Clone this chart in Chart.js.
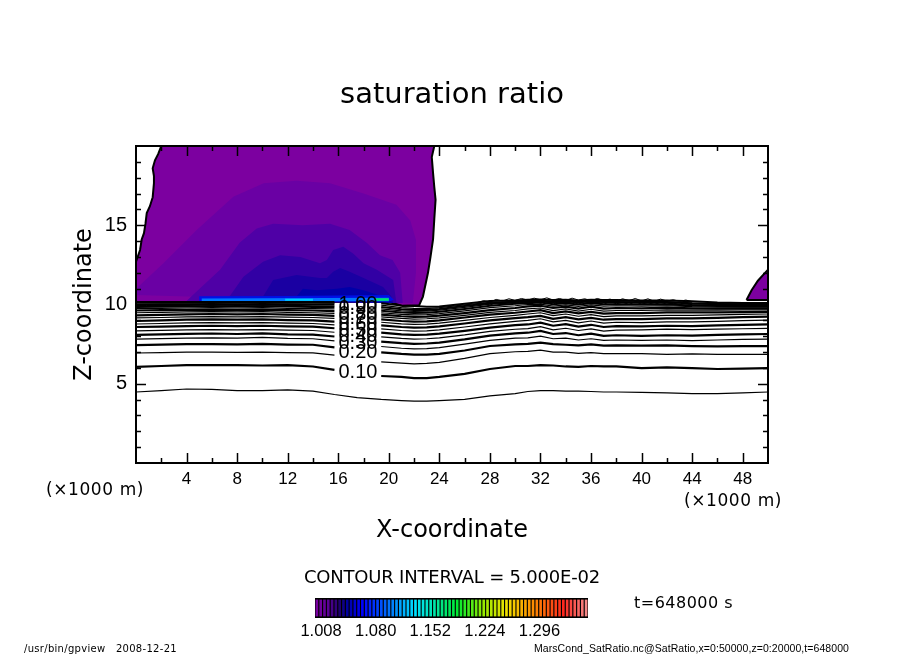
<!DOCTYPE html>
<html>
<head>
<meta charset="utf-8">
<title>saturation ratio</title>
<script src="https://cdn.jsdelivr.net/npm/chart.js@4"></script>
<style>
  html, body { margin: 0; padding: 0; background: #fff; overflow: hidden; }
  #main { position: absolute; left: 0; top: 0; }
  #bar { position: absolute; left: 290px; top: 590px; }
</style>
</head>
<body>
<canvas id="main" width="904" height="654"></canvas>
<canvas id="bar" width="330" height="60"></canvas>
<script>
// tick labels
const xTickLabels = [4, 8, 12, 16, 20, 24, 28, 32, 36, 40, 44, 48];
const zTickLabels = [5, 10, 15];

// filled regions of the saturation ratio, x in 1000 m, z in 1000 m
const domeX = [2.0, 1.76, 1.5, 1.32, 1.42, 1.42, 1.32, 1.1, 0.85, 0.75, 0.63, 0.45, 0.32, 0, 0, 5, 10, 15, 20, 20.5, 21.1, 22.4, 22.7, 23.1, 23.3, 23.5, 23.6, 23.7, 23.6, 23.5, 23.4, 23.6];
const domeZ = [20, 19.5, 19.1, 18.6, 18.1, 17.66, 16.77, 16.2, 15.77, 15.1, 14.5, 14.1, 13.44, 12.7, 10.16, 10.16, 10.16, 10.16, 10.16, 10.05, 9.9, 9.95, 10.5, 12, 13, 14.1, 15.4, 16.6, 17.4, 18.3, 19.3, 20];
const cornerX = [48.3, 48.7, 49.2, 50, 50];
const cornerZ = [10.28, 10.9, 11.5, 12.2, 10.28];
const band2X = [0, 0.18, 2.17, 4.8, 7.7, 10.1, 12.7, 15.35, 18, 20.6, 21.7, 22.15, 22.15, 21.9];
const band2Z = [10.6, 11.12, 12.6, 14.7, 16.8, 17.65, 17.8, 17.65, 17, 16.3, 15.3, 14.07, 12, 10.1];
const band3X = [4, 4.5, 6.65, 8.2, 9.55, 10.85, 13.2, 15.35, 16.9, 18.25, 19.3, 20.3, 20.9, 21.1];
const band3Z = [10.22, 10.6, 12.2, 13.9, 14.8, 15.1, 15, 15.1, 14.7, 13.9, 13.1, 12.8, 12, 10.1];
const band4X = [7, 7.4, 8.5, 10.05, 11.4, 13, 14.55, 15.1, 15.6, 16.4, 17.2, 18, 19.05, 20.35, 20.6];
const band4Z = [10.22, 10.5, 11.75, 12.7, 13.1, 13, 12.6, 12.8, 13.44, 13.65, 13.2, 12.6, 12.2, 11.55, 10.1];
const band5X = [9.8, 10.05, 10.85, 12.7, 14.55, 15.1, 15.6, 16.15, 16.9, 18, 19.55, 20.2, 20.35];
const band5Z = [10.22, 10.5, 11.55, 11.86, 11.67, 11.67, 12.07, 12.3, 12.07, 11.67, 11.1, 10.5, 10.1];
const band6X = [12.4, 12.7, 13.2, 14.3, 15.9, 16.9, 18, 19.55, 20.35];
const band6Z = [10.22, 10.5, 11, 10.9, 11, 11.1, 10.9, 10.5, 10.1];
const band7X = [5, 5, 12, 20, 20.4, 20.1];
const band7Z = [10.2, 10.52, 10.54, 10.6, 10.3, 10.2];
const band8X = [5.2, 5.2, 20, 20];
const band8Z = [10.2, 10.38, 10.42, 10.2];
const band9X = [11.8, 11.8, 14, 14];
const band9Z = [10.24, 10.36, 10.36, 10.24];
const band10X = [18.9, 18.9, 20, 20];
const band10Z = [10.24, 10.4, 10.4, 10.24];

// contour lines of the ratio below saturation, null where a label breaks the line
const contourX = [0, 2, 4, 6, 8, 10, 12, 14, 15.7, 17.5, 19.4, 21, 22, 23, 24, 26, 28, 30, 31, 32, 33, 34, 35, 36, 37, 38, 40, 42, 44, 46, 48, 50];
const level005 = [4.48, 4.57, 4.67, 4.64, 4.57, 4.57, 4.61, 4.54, 4.32, 4.13, 4.01, 3.94, 3.91, 3.91, 3.94, 4.01, 4.23, 4.38, 4.51, 4.57, 4.57, 4.54, 4.54, 4.51, 4.48, 4.48, 4.45, 4.42, 4.38, 4.38, 4.42, 4.48];
const level010 = [6.06, 6.12, 6.18, 6.18, 6.18, 6.15, 6.18, 6.09, 5.87, null, 5.49, 5.43, 5.36, 5.36, 5.43, 5.62, 5.93, 6.12, 6.12, 6.18, 6.15, 6.09, 6.06, 6.12, 6.09, 6.09, 5.99, 6.03, 5.99, 5.93, 5.96, 5.99];
const level015 = [6.94, 6.96, 7.0, 6.99, 6.98, 7.0, 6.97, 6.95, 6.8, null, 6.38, 6.3, 6.25, 6.28, 6.35, 6.6, 6.9, 7.02, 7.04, 7.12, 7.0, 7.0, 6.92, 6.96, 6.9, 6.9, 6.9, 6.85, 6.88, 6.85, 6.85, 6.85];
const level020 = [7.44, 7.47, 7.5, 7.5, 7.49, 7.51, 7.47, 7.46, 7.3, null, 6.98, 6.88, 6.84, 6.84, 6.88, 7.1, 7.38, 7.48, 7.52, 7.59, 7.5, 7.46, 7.42, 7.48, 7.4, 7.42, 7.4, 7.42, 7.38, 7.36, 7.38, 7.38];
const level025 = [7.82, 7.85, 7.88, 7.9, 7.88, 7.92, 7.86, 7.84, 7.7, null, 7.35, 7.24, 7.2, 7.22, 7.28, 7.5, 7.74, 7.88, 7.9, 8.0, 7.84, 7.88, 7.76, 7.84, 7.74, 7.76, 7.74, 7.76, 7.72, 7.76, 7.8, 7.82];
const level030 = [8.08, 8.12, 8.15, 8.17, 8.14, 8.18, 8.12, 8.1, 7.98, null, 7.66, 7.56, 7.52, 7.54, 7.6, 7.8, 8.04, 8.18, 8.22, 8.34, 8.14, 8.2, 8.06, 8.16, 8.02, 8.06, 8.02, 8.06, 8.04, 8.08, 8.12, 8.14];
const level035 = [8.33, 8.37, 8.4, 8.42, 8.4, 8.42, 8.38, 8.36, 8.25, null, 7.96, 7.86, 7.82, 7.84, 7.9, 8.08, 8.3, 8.44, 8.48, 8.6, 8.4, 8.5, 8.36, 8.46, 8.32, 8.38, 8.4, 8.45, 8.42, 8.45, 8.47, 8.5];
const level040 = [8.58, 8.6, 8.63, 8.66, 8.64, 8.66, 8.62, 8.6, 8.5, null, 8.22, 8.12, 8.08, 8.1, 8.16, 8.34, 8.54, 8.7, 8.74, 8.86, 8.66, 8.76, 8.6, 8.72, 8.58, 8.64, 8.62, 8.66, 8.64, 8.68, 8.72, 8.75];
const level045 = [8.77, 8.8, 8.84, 8.86, 8.84, 8.86, 8.82, 8.8, 8.72, null, 8.46, 8.36, 8.32, 8.34, 8.4, 8.58, 8.78, 8.94, 9.0, 9.1, 8.9, 9.0, 8.84, 8.96, 8.82, 8.88, 8.86, 8.9, 8.9, 8.94, 8.98, 9.02];
const level050 = [8.96, 9.0, 9.04, 9.06, 9.04, 9.06, 9.02, 9.0, 8.92, null, 8.68, 8.58, 8.54, 8.56, 8.62, 8.8, 9.0, 9.14, 9.2, 9.28, 9.1, 9.2, 9.06, 9.16, 9.04, 9.08, 9.08, 9.12, 9.12, 9.16, 9.2, 9.23];
const level055 = [9.15, 9.18, 9.22, 9.24, 9.22, 9.24, 9.2, 9.18, 9.12, null, 8.88, 8.78, 8.74, 8.76, 8.82, 9.0, 9.18, 9.32, 9.4, 9.48, 9.3, 9.4, 9.26, 9.36, 9.24, 9.28, 9.28, 9.32, 9.32, 9.34, 9.38, 9.4];
const level060 = [9.32, 9.35, 9.38, 9.4, 9.38, 9.4, 9.36, 9.34, 9.28, null, 9.06, 8.96, 8.92, 8.94, 9.0, 9.18, 9.36, 9.48, 9.56, 9.64, 9.46, 9.56, 9.44, 9.54, 9.42, 9.46, 9.46, 9.5, 9.5, 9.5, 9.52, 9.54];
const level065 = [9.48, 9.5, 9.53, 9.55, 9.53, 9.55, 9.5, 9.48, 9.44, null, 9.22, 9.12, 9.08, 9.1, 9.16, 9.32, 9.5, 9.62, 9.72, 9.78, 9.62, 9.72, 9.58, 9.7, 9.58, 9.62, 9.62, 9.66, 9.64, 9.64, 9.66, 9.66];
const level070 = [9.62, 9.64, 9.66, 9.68, 9.66, 9.68, 9.64, 9.62, 9.58, null, 9.36, 9.26, 9.22, 9.24, 9.3, 9.46, 9.64, 9.78, 9.88, 9.92, 9.78, 9.86, 9.74, 9.86, 9.74, 9.78, 9.76, 9.8, 9.76, 9.74, 9.76, 9.76];
const level075 = [9.74, 9.76, 9.78, 9.8, 9.78, 9.8, 9.76, 9.74, 9.72, null, 9.48, 9.38, 9.34, 9.36, 9.42, 9.6, 9.8, 9.92, 10.0, 10.02, 9.9, 9.98, 9.88, 9.98, 9.9, 9.92, 9.9, 9.92, 9.86, 9.84, 9.84, 9.84];
const level080 = [9.84, 9.86, 9.88, 9.9, 9.88, 9.9, 9.87, 9.85, 9.84, null, 9.6, 9.5, 9.46, 9.48, 9.54, 9.72, 9.92, 10.04, 10.08, 10.12, 10.02, 10.08, 10.0, 10.08, 10.02, 10.02, 10.0, 10.0, 9.94, 9.9, 9.9, 9.9];
const level085 = [9.92, 9.94, 9.95, 9.96, 9.95, 9.96, 9.94, 9.92, 9.92, null, 9.72, 9.6, 9.56, 9.58, 9.64, 9.82, 10.02, 10.1, 10.14, 10.18, 10.1, 10.14, 10.08, 10.14, 10.1, 10.1, 10.08, 10.08, 10.0, 9.96, 9.95, 9.95];
const level090 = [10.0, 10.02, 10.02, 10.03, 10.02, 10.03, 10.01, 10.0, 10.01, null, 9.84, 9.7, 9.66, 9.66, 9.72, 9.9, 10.08, 10.16, 10.2, 10.22, 10.16, 10.2, 10.14, 10.2, 10.16, 10.16, 10.14, 10.14, 10.06, 10.02, 10.0, 10.0];
const level095 = [10.08, 10.09, 10.09, 10.1, 10.09, 10.1, 10.08, 10.08, 10.09, null, 9.96, 9.8, 9.76, 9.74, 9.8, 9.98, 10.14, 10.2, 10.24, 10.26, 10.22, 10.26, 10.2, 10.26, 10.22, 10.22, 10.2, 10.18, 10.1, 10.06, 10.04, 10.04];
const level100 = [10.16, 10.16, 10.16, 10.16, 10.16, 10.16, 10.16, 10.16, 10.16, null, 10.08, 9.93, 9.9, 9.86, 9.88, 10.05, 10.22, 10.26, 10.3, 10.32, 10.28, 10.3, 10.26, 10.3, 10.28, 10.28, 10.26, 10.26, 10.2, 10.12, 10.1, 10.1];

// rippled upper contours over the right half
const rippleX = [27, 27.5, 28, 28.5, 29, 29.5, 30, 30.5, 31, 31.5, 32, 32.5, 33, 33.5, 34, 34.5, 35, 35.5, 36, 36.5, 37, 37.5, 38, 38.5, 39, 39.5, 40, 40.5, 41, 41.5, 42, 42.5, 43, 43.5, 44];
const ripple1 = [10.12, 10.24, 10.16, 10.32, 10.22, 10.36, 10.26, 10.38, 10.28, 10.4, 10.3, 10.42, 10.28, 10.38, 10.26, 10.4, 10.28, 10.36, 10.24, 10.38, 10.26, 10.34, 10.22, 10.36, 10.24, 10.38, 10.22, 10.36, 10.2, 10.34, 10.22, 10.3, 10.2, 10.28, 10.18];
const ripple2 = [9.98, 10.08, 9.96, 10.14, 10.02, 10.18, 10.04, 10.22, 10.06, 10.24, 10.08, 10.2, 10.02, 10.22, 10.06, 10.18, 10.02, 10.2, 10.06, 10.16, 10.0, 10.2, 10.04, 10.14, 10.0, 10.18, 10.02, 10.12, 10.0, 10.14, 10.02, 10.1, 9.98, 10.08, 9.98];

// contour labels sit at this x, at these heights
const labelX = 17.56;
const labelTexts = ['0.10', '0.20', '0.30', '0.40', '0.50', '0.60', '0.70', '0.80', '0.90', '1.00'];
const labelZ = [5.68, 7.0, 7.57, 8.01, 8.39, 8.77, 9.09, 9.4, 9.72, 10.03];

// colour bar
const barLevels = [1.0025, 1.0075, 1.0125, 1.0175, 1.0225, 1.0275, 1.0325, 1.0375, 1.0425, 1.0475, 1.0525, 1.0575,
  1.0625, 1.0675, 1.0725, 1.0775, 1.0825, 1.0875, 1.0925, 1.0975, 1.1025, 1.1075, 1.1125, 1.1175,
  1.1225, 1.1275, 1.1325, 1.1375, 1.1425, 1.1475, 1.1525, 1.1575, 1.1625, 1.1675, 1.1725, 1.1775,
  1.1825, 1.1875, 1.1925, 1.1975, 1.2025, 1.2075, 1.2125, 1.2175, 1.2225, 1.2275, 1.2325, 1.2375,
  1.2425, 1.2475, 1.2525, 1.2575, 1.2625, 1.2675, 1.2725, 1.2775, 1.2825, 1.2875, 1.2925, 1.2975,
  1.3025, 1.3075, 1.3125, 1.3175, 1.3225, 1.3275, 1.3325, 1.3375, 1.3425, 1.3475, 1.3525, 1.3575];
const barTicks = [1.008, 1.08, 1.152, 1.224, 1.296];

const W = 904, H = 654;
const BLACK = '#000';

// bar colours run through these stops, index in barLevels -> rgb
const rampStops = [
  [0, 120, 0, 160], [3, 90, 0, 150], [6, 30, 0, 110], [8, 0, 0, 160], [12, 0, 0, 255], [20, 0, 130, 255],
  [26, 0, 225, 255], [31, 0, 230, 170], [37, 0, 235, 50], [44, 150, 235, 0], [50, 240, 225, 0],
  [57, 255, 140, 0], [65, 255, 40, 30], [71, 245, 135, 135]
];

function rampColour(i) {
  let k = 0;
  while (k < rampStops.length - 2 && rampStops[k + 1][0] <= i) k++;
  const a = rampStops[k], b = rampStops[k + 1];
  const t = (i - a[0]) / (b[0] - a[0]);
  const c = [1, 2, 3].map(n => Math.round(a[n] + (b[n] - a[n]) * t));
  return 'rgb(' + c.join(',') + ')';
}

function pairs(xs, zs) {
  return xs.map((x, i) => ({ x: x, y: zs[i] }));
}

function region(xs, zs, colour, outline) {
  return {
    data: pairs(xs.concat(xs[0]), zs.concat(zs[0])),
    showLine: true,
    fill: 'shape',
    backgroundColor: colour,
    borderColor: outline ? BLACK : colour,
    borderWidth: outline ? 2 : 0,
    pointRadius: 0,
    tension: 0
  };
}

function contour(zs, width, xs) {
  return {
    data: pairs(xs || contourX, zs),
    showLine: true,
    fill: false,
    borderColor: BLACK,
    borderWidth: width,
    pointRadius: 0,
    tension: 0
  };
}

const datasets = [
  region(domeX, domeZ, '#7c00a0', true),
  region(cornerX, cornerZ, '#7c00a0', true),
  region(band2X, band2Z, '#6a00a4', false),
  region(band3X, band3Z, '#4f00a6', false),
  region(band4X, band4Z, '#3200a4', false),
  region(band5X, band5Z, '#1a00a2', false),
  region(band6X, band6Z, '#0000a8', false),
  region(band7X, band7Z, '#0010e6', false),
  region(band8X, band8Z, '#0078ff', false),
  region(band9X, band9Z, '#00d0ff', false),
  region(band10X, band10Z, '#00e66e', false),
  contour(level005, 1.2), contour(level010, 2.2), contour(level015, 1.2), contour(level020, 2.2),
  contour(level025, 1.2), contour(level030, 2.2), contour(level035, 1.2), contour(level040, 2.2),
  contour(level045, 1.2), contour(level050, 2.2), contour(level055, 1.2), contour(level060, 2.2),
  contour(level065, 1.2), contour(level070, 2.2), contour(level075, 1.2), contour(level080, 2),
  contour(level085, 1.2), contour(level090, 2), contour(level095, 1.2), contour(level100, 2),
  contour(ripple1, 1, rippleX), contour(ripple2, 1, rippleX)
];
// later datasets on top
datasets.forEach((d, i) => { d.order = datasets.length - i; });

// free text around the plot: left edge, middle height, width to fit
const sideTexts = [
  { text: '(\u00d71000 m)', x: 46, y: 491, width: 98, font: '17px "DejaVu Sans"' },
  { text: '(\u00d71000 m)', x: 684, y: 502, width: 98, font: '17px "DejaVu Sans"' },
  { text: 'CONTOUR INTERVAL = 5.000E-02', x: 304, y: 578, width: 296, font: '18px "DejaVu Sans"' },
  { text: 't=648000 s', x: 634, y: 604, width: 99, font: '16px "DejaVu Sans"' },
  { text: '/usr/bin/gpview   2008-12-21', x: 24, y: 649, width: 153, font: '10px "DejaVu Sans"' },
  { text: 'MarsCond_SatRatio.nc@SatRatio,x=0:50000,z=0:20000,t=648000', x: 534, y: 649, width: 315, font: '10.5px "Liberation Sans"' }
];

const framePlugin = {
  id: 'frame',
  afterDatasetsDraw(chart) {
    const ctx = chart.ctx, a = chart.chartArea;
    const xs = chart.scales.x, ys = chart.scales.y;
    ctx.save();
    ctx.strokeStyle = BLACK;
    ctx.fillStyle = BLACK;

    // contour labels
    ctx.font = '20px "Liberation Sans"';
    ctx.textAlign = 'center';
    ctx.textBaseline = 'middle';
    labelTexts.forEach((t, i) => {
      ctx.fillText(t, xs.getPixelForValue(labelX), ys.getPixelForValue(labelZ[i]));
    });

    // inward ticks on all four sides
    ctx.lineWidth = 1.5;
    ctx.beginPath();
    xs.ticks.forEach(t => {
      if (t.value <= xs.min || t.value >= xs.max) return;
      const len = xTickLabels.includes(t.value) ? 10 : 5;
      const px = Math.round(xs.getPixelForValue(t.value)) + 0.5;
      ctx.moveTo(px, a.bottom); ctx.lineTo(px, a.bottom - len);
      ctx.moveTo(px, a.top); ctx.lineTo(px, a.top + len);
    });
    ys.ticks.forEach(t => {
      if (t.value <= ys.min || t.value >= ys.max) return;
      const len = zTickLabels.includes(t.value) ? 10 : 5;
      const py = Math.round(ys.getPixelForValue(t.value)) + 0.5;
      ctx.moveTo(a.left, py); ctx.lineTo(a.left + len, py);
      ctx.moveTo(a.right, py); ctx.lineTo(a.right - len, py);
    });
    ctx.stroke();

    ctx.lineWidth = 2;
    ctx.strokeRect(a.left, a.top, a.right - a.left, a.bottom - a.top);

    // side texts
    ctx.textAlign = 'left';
    sideTexts.forEach(s => {
      ctx.font = s.font;
      ctx.letterSpacing = '0px';
      const spare = s.width - ctx.measureText(s.text).width;
      ctx.letterSpacing = (spare / s.text.length) + 'px';
      ctx.fillText(s.text, s.x, s.y);
    });
    ctx.letterSpacing = '0px';
    ctx.restore();
  }
};

new Chart(document.getElementById('main'), {
  type: 'scatter',
  data: { datasets: datasets },
  plugins: [framePlugin],
  options: {
    responsive: false,
    animation: false,
    devicePixelRatio: 1,
    events: [],
    layout: { padding: 0 },
    plugins: {
      legend: { display: false },
      tooltip: { enabled: false },
      title: {
        display: true,
        text: 'saturation ratio',
        color: BLACK,
        font: { family: '"DejaVu Sans"', size: 29, weight: 'normal', lineHeight: 1.2 },
        padding: { top: 78, bottom: 33.2 }
      }
    },
    scales: {
      x: {
        type: 'linear',
        min: 0,
        max: 50,
        afterFit(scale) { scale.height = H - 463; },
        grid: { display: false, drawTicks: false },
        border: { display: false },
        ticks: {
          stepSize: 2,
          autoSkip: false,
          maxRotation: 0,
          padding: 6,
          color: BLACK,
          font: { family: '"Liberation Sans"', size: 17 },
          callback: v => xTickLabels.includes(v) ? String(v) : ''
        },
        title: {
          display: true,
          text: 'X-coordinate',
          color: BLACK,
          font: { family: '"DejaVu Sans"', size: 24, lineHeight: 1.2 },
          padding: { top: 0, bottom: 109 }
        }
      },
      y: {
        type: 'linear',
        min: 0,
        max: 20,
        afterFit(scale) { scale.width = 136; },
        grid: { display: false, drawTicks: false },
        border: { display: false },
        ticks: {
          stepSize: 1,
          autoSkip: false,
          padding: 9,
          color: BLACK,
          font: { family: '"Liberation Sans"', size: 20 },
          callback: v => zTickLabels.includes(v) ? String(v) : ''
        },
        title: {
          display: true,
          text: 'Z-coordinate',
          color: BLACK,
          font: { family: '"DejaVu Sans"', size: 24, lineHeight: 1.2 },
          padding: { top: 70, bottom: 0 }
        }
      },
      // empty right margin, keeps the title centred on the page
      yRight: {
        type: 'linear',
        position: 'right',
        min: 0,
        max: 20,
        afterFit(scale) { scale.width = W - 768; },
        grid: { display: false, drawTicks: false },
        border: { display: false },
        ticks: { display: false }
      }
    }
  }
});

// colour bar, black plate behind thin bars
const platePlugin = {
  id: 'plate',
  beforeDatasetsDraw(chart) {
    const a = chart.chartArea;
    chart.ctx.fillStyle = BLACK;
    chart.ctx.fillRect(a.left, a.top, a.right - a.left, a.bottom - a.top);
  }
};

new Chart(document.getElementById('bar'), {
  type: 'bar',
  data: {
    datasets: [{
      data: barLevels.map(v => ({ x: v, y: 1 })),
      backgroundColor: barLevels.map((v, i) => rampColour(i)),
      barThickness: 2
    }]
  },
  plugins: [platePlugin],
  options: {
    responsive: false,
    animation: false,
    devicePixelRatio: 1,
    events: [],
    layout: { padding: { left: 25, right: 32, top: 8, bottom: 0 } },
    plugins: { legend: { display: false }, tooltip: { enabled: false } },
    scales: {
      x: {
        type: 'linear',
        offset: false,
        min: 1.0,
        max: 1.36,
        afterFit(scale) { scale.height = 32; },
        afterBuildTicks(scale) { scale.ticks = barTicks.map(v => ({ value: v })); },
        grid: { display: false, drawTicks: false },
        border: { display: false },
        ticks: {
          autoSkip: false,
          maxRotation: 0,
          padding: 4,
          color: BLACK,
          font: { family: '"Liberation Sans"', size: 16.5 },
          callback: v => v.toFixed(3)
        }
      },
      y: { display: false, min: -0.12, max: 1.12 }
    }
  }
});
</script>
</body>
</html>
